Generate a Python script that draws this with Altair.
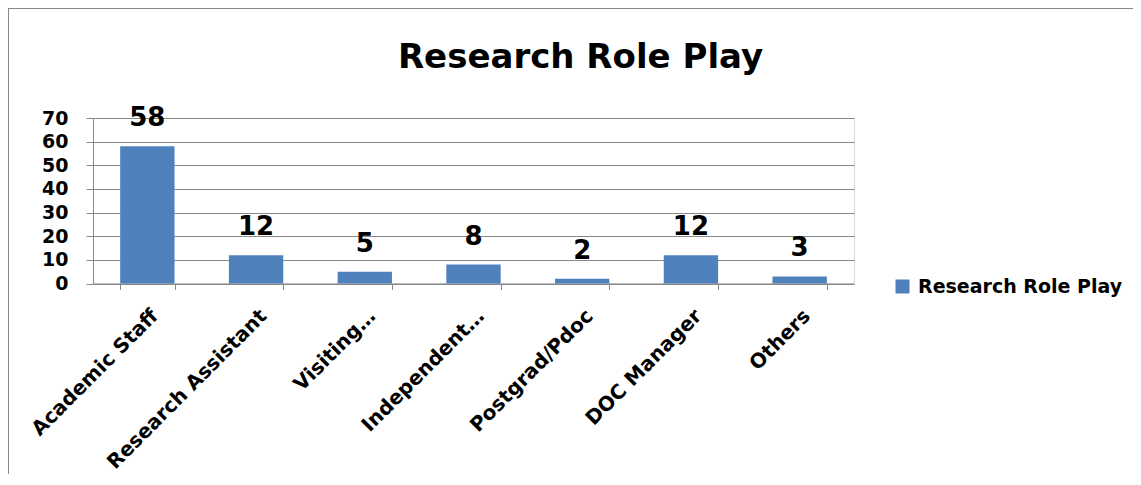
import altair as alt
import pandas as pd

categories = ["Academic Staff", "Research Assistant", "Visiting…", "Independent…",
              "Postgrad/Pdoc", "DOC Manager", "Others"]
values = [58, 12, 5, 8, 2, 12, 3]
series_name = "Research Role Play"
y_ticks = [0, 10, 20, 30, 40, 50, 60, 70]

df = pd.DataFrame({"category": categories, "value": values, "series": [series_name] * len(categories)})

FONT = "DejaVu Sans"
GRAY = "#888888"
BLUE = "#4F81BD"
W, H = 761, 165.5
PL, PT = 85, 110

base = alt.Chart(df).encode(
    x=alt.X("category:N", sort=categories,
            scale=alt.Scale(paddingInner=0.5, paddingOuter=0.25),
            axis=alt.Axis(title=None, labelAngle=-45, labelAlign="right", labelBaseline="top",
                          tickSize=6, tickBand="extent", labelPadding=16,
                          labelFontSize=20, labelFont=FONT, labelFontWeight="bold",
                          labelColor="black", domainColor=GRAY, tickColor=GRAY,
                          labelLimit=400)),
    y=alt.Y("value:Q", scale=alt.Scale(domain=[0, 70], nice=False),
            axis=alt.Axis(title=None, values=y_ticks, tickSize=7, labelPadding=18,
                          labelFontSize=19, labelFont=FONT, labelFontWeight="bold",
                          labelColor="black", domainColor=GRAY, tickColor=GRAY,
                          gridColor=GRAY, grid=True)),
)

bars = base.mark_bar(color=BLUE).encode(
    color=alt.Color("series:N",
                    scale=alt.Scale(domain=[series_name], range=[BLUE]),
                    legend=alt.Legend(title=None, orient="none", legendX=800, legendY=159,
                                      symbolType="square", symbolSize=196, symbolStrokeWidth=0,
                                      labelFontSize=19, labelFont=FONT, labelFontWeight="bold",
                                      labelColor="black", labelOffset=6, padding=0,
                                      labelLimit=400))
)

labels = base.mark_text(dy=-20, baseline="alphabetic", align="center",
                        fontSize=26, font=FONT, fontWeight="bold", color="black").encode(
    text=alt.Text("value:Q")
)

border_left = alt.Chart(df).mark_rule(color=GRAY, strokeWidth=1).encode(
    x=alt.value(-PL + 0.5), y=alt.value(-PT + 0.5), y2=alt.value(H + 400))
border_top = alt.Chart(df).mark_rule(color=GRAY, strokeWidth=1).encode(
    x=alt.value(-PL + 0.5), x2=alt.value(W + 400), y=alt.value(-PT + 0.5))

chart = alt.layer(bars, labels, border_left, border_top).properties(
    width=W, height=H,
    title=alt.TitleParams(series_name, font=FONT, fontSize=34, fontWeight="bold",
                          color="black", anchor="middle", baseline="alphabetic",
                          dx=107, dy=94, offset=0),
    autosize=alt.AutoSizeParams(type="none"),
    padding={"left": PL, "top": PT, "right": 1125 - PL - W, "bottom": 190},
).configure_view(stroke=None).configure(background="white")

chart.save("out.html", embed_options={"renderer": "svg", "actions": False})
